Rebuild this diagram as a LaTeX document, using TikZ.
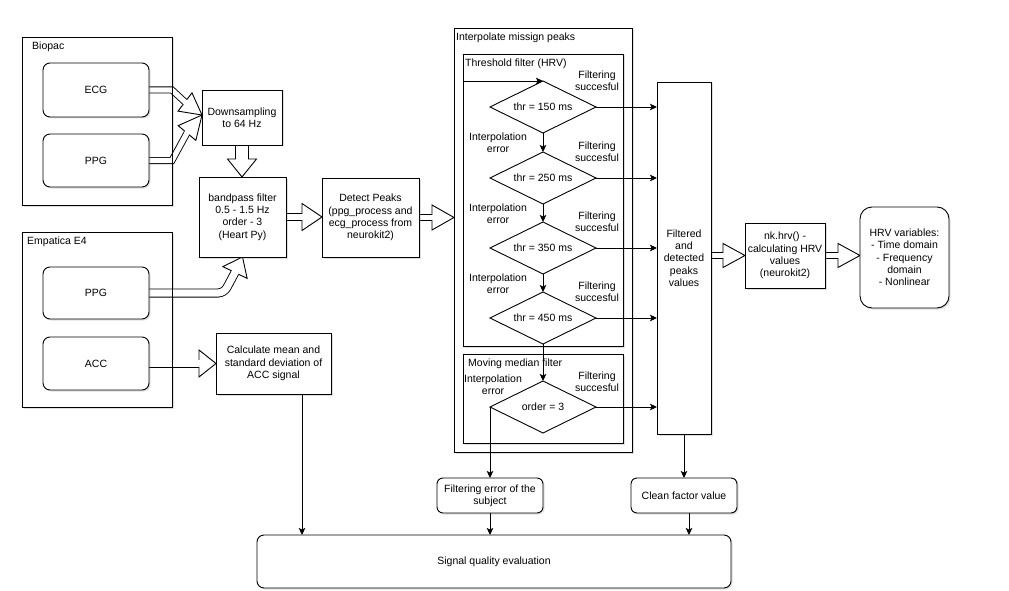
\documentclass[tikz,border=0pt]{standalone}
\usepackage{fontspec}
\setmainfont{Liberation Sans}
\usetikzlibrary{calc,shapes.geometric,arrows.meta,shadows}
\pgfdeclarelayer{bg}\pgfdeclarelayer{arrlayer}
\pgfsetlayers{bg,arrlayer,main}
\newcommand\fs{\fontsize{10.5}{12.3}\selectfont}
% #1 path, #2 base, #3 tip, #4 outer width, #5 inner width, #6 head half width
\newcommand\flexar[6]{%
  \begin{pgfonlayer}{arrlayer}
  \draw[line width=#4, line join=miter] #1;
  \draw[line width=#5, white, line join=miter] #1;
  \filldraw[fill=white, draw=black, line width=0.9pt, line join=miter]
     ($#2!#6!90:#3$) -- #3 -- ($#2!#6!-90:#3$) -- cycle;
  \draw[line width=#5, white] ($#2!-1pt!#3$) -- ($#2!2pt!#3$);
  \end{pgfonlayer}}
\begin{document}
\begin{tikzpicture}[x=1pt,y=-1pt,
  every node/.style={font=\fs},
  base/.style={draw, line width=0.9pt, inner sep=1pt, outer sep=0pt, align=center, anchor=center},
  shad/.style={drop shadow={shadow xshift=1.5pt,shadow yshift=-1.5pt,opacity=0.25}},
  box/.style={base, fill=white, shad},
  rbox/.style={box, rounded corners=7pt},
  grp/.style={base, fill=white, shad},
  dia/.style={diamond, draw, fill=white, line width=0.9pt, inner sep=0pt, outer sep=0pt, aspect=2},
  lbl/.style={inner sep=0pt, align=center},
  glbl/.style={inner sep=0pt, anchor=west},
  arr/.style={line width=0.9pt, -{Stealth[length=7pt,width=6.5pt,inset=1.5pt]}},
  sz/.style 2 args={minimum width=#1pt, minimum height=#2pt}
]
\useasboundingbox (0,0) rectangle (1009,591);

% groups
\begin{pgfonlayer}{bg}
\node[grp, sz={150}{168}] (bio) at (97,121) {};
\node[grp, sz={150}{175}] (e4) at (97,319.5) {};
\node[grp, sz={178}{424}] (interp) at (543,240) {};
\node[grp, sz={160}{292}] (thr) at (543,200) {};
\node[grp, sz={160}{89}] (mm) at (543,398.5) {};
\end{pgfonlayer}
\foreach \n in {bio,e4,interp,thr,mm}
  \draw[line width=0.9pt] (\n.north west) rectangle (\n.south east);

\node[glbl] at ([xshift=10pt,yshift=-10pt]bio.north west) {Biopac};
\node[glbl] at ([xshift=5pt,yshift=-10pt]e4.north west) {Empatica E4};
\node[glbl] at ([xshift=2pt,yshift=-10pt]interp.north west) {Interpolate missign peaks};
\node[glbl] at ([xshift=2pt,yshift=-10pt]thr.north west) {Threshold filter (HRV)};
\node[glbl] at ([xshift=5pt,yshift=-10pt]mm.north west) {Moving median filter};

% boxes
\node[rbox, sz={106}{54}] (ecg) at (96,90) {ECG};
\node[rbox, sz={106}{53}] (ppgA) at (96,160.5) {PPG};
\node[box, sz={80}{55}] (down) at (242,117.5) {Downsampling\\to 64 Hz};
\node[box, sz={87}{80}] (band) at (242.5,217) {bandpass filter\\0.5 - 1.5 Hz\\order - 3\\(Heart Py)};
\node[rbox, sz={106}{52}] (ppgB) at (96,293) {PPG};
\node[rbox, sz={106}{53}] (acc) at (96,363.5) {ACC};
\node[box, sz={115}{61}] (calc) at (273.5,363.5) {Calculate mean and\\standard deviation of\\ACC signal};
\node[box, sz={97}{79}] (detect) at (370.5,217.5) {Detect Peaks\\(ppg\_process and\\ecg\_process from\\neurokit2)};
\node[dia, sz={106}{52}] (d1) at (543,107) {thr = 150 ms};
\node[dia, sz={106}{52}] (d2) at (543,178) {thr = 250 ms};
\node[dia, sz={106}{52}] (d3) at (543,248) {thr = 350 ms};
\node[dia, sz={106}{52}] (d4) at (543,318) {thr = 450 ms};
\node[dia, sz={106}{52}] (d5) at (543,407) {order = 3};
\node[box, sz={54}{352}] (filt) at (684,258) {Filtered\\and\\detected\\peaks\\values};
\node[box, sz={80}{65}] (nk) at (785,255.5) {nk.hrv() -\\calculating HRV\\values\\(neurokit2)};
\node[box, rounded corners=12pt, sz={89}{101}] (hrv) at (904.5,257.5) {HRV variables:\\- Time domain\\- Frequency\\domain\\- Nonlinear};
\node[box, rounded corners=6pt, sz={106}{35}] (ferr) at (490,495.5) {Filtering error of the\\subject};
\node[box, rounded corners=6pt, sz={106}{35}] (clean) at (684,495.5) {Clean factor value};
\node[rbox, sz={474}{53}] (sq) at (494,561.5) {Signal quality evaluation};

% labels in filter chain
\foreach \d in {d1,d2,d3,d4}
  \node[lbl] at ([xshift=54pt]\d.north) {Filtering\\succesful};
\foreach \d in {d1,d2,d3}
  \node[lbl] at ([xshift=-45pt,yshift=-10pt]\d.south) {Interpolation\\error};
\node[lbl] at ([xshift=54pt,yshift=-1pt]d5.north) {Filtering\\succesful};
\node[lbl] at ([xshift=-50pt,yshift=-4pt]d5.north) {Interpolation\\error};

% block arrows
\coordinate (t1) at ([yshift=2.5pt]down.west);
\coordinate (c1) at (172,90);
\coordinate (b1) at (185,102);
\flexar{(ecg.east) -- (c1) -- (b1)}{(b1)}{(t1)}{7pt}{5.2pt}{11.5pt}
\coordinate (c2) at (172,160.5);
\coordinate (b2) at (187,133);
\flexar{(ppgA.east) -- (c2) -- (b2)}{(b2)}{(t1)}{7pt}{5.2pt}{11.5pt}
\coordinate (c3) at (224,293);
\coordinate (b3) at (235,272.5);
\coordinate (t3) at (band.south);
\flexar{(ppgB.east) [rounded corners=6pt] -- (c3) -- (b3)}{(b3)}{(t3)}{9pt}{7.2pt}{13.5pt}
\coordinate (t4) at (down.south |- band.north);
\coordinate (b4) at ([yshift=18pt]t4);
\flexar{(down.south) -- (b4)}{(b4)}{(t4)}{14pt}{12.2pt}{14.5pt}
\coordinate (t5) at (band.east -| detect.west);
\coordinate (b5) at ([xshift=-20pt]t5);
\flexar{(band.east) -- (b5)}{(b5)}{(t5)}{8pt}{6.2pt}{13.5pt}
\coordinate (t6) at (detect.east -| interp.west);
\coordinate (b6) at ([xshift=-22pt]t6);
\flexar{(detect.east) -- (b6)}{(b6)}{(t6)}{7pt}{5.2pt}{12.5pt}
\coordinate (t7) at (acc.east -| calc.west);
\coordinate (b7) at ([xshift=-17pt]t7);
\flexar{(acc.east) -- (b7)}{(b7)}{(t7)}{8pt}{6.2pt}{13.5pt}
\coordinate (t8) at (nk.west);
\coordinate (b8) at ([xshift=-22pt]t8);
\flexar{(nk.west -| filt.east) -- (b8)}{(b8)}{(t8)}{7pt}{5.2pt}{12pt}
\coordinate (t9) at (nk.east -| hrv.west);
\coordinate (b9) at ([xshift=-22pt]t9);
\flexar{(nk.east) -- (b9)}{(b9)}{(t9)}{7pt}{5.2pt}{12pt}

% connectors
\draw[arr] (thr.west |- d1.north) -- (d1.north);
\draw[arr] (d1.south) -- (d2.north);
\draw[arr] (d2.south) -- (d3.north);
\draw[arr] (d3.south) -- (d4.north);
\draw[arr] (d4.south) -- (d5.north);
\foreach \d in {d1,d2,d3,d4,d5}
  \draw[arr] (\d.east) -- (\d.east -| filt.west);
\draw[arr] (d5.west) -- (d5.west |- ferr.north);
\draw[arr] ([xshift=28.5pt]calc.south) -- ([xshift=28.5pt]calc.south |- sq.north);
\draw[arr] (ferr.south) -- (ferr.south |- sq.north);
\draw[arr] (filt.south) -- (clean.north);
\draw[arr] ([xshift=5pt]clean.south) -- ([xshift=5pt]clean.south |- sq.north);
\end{tikzpicture}
\end{document}
